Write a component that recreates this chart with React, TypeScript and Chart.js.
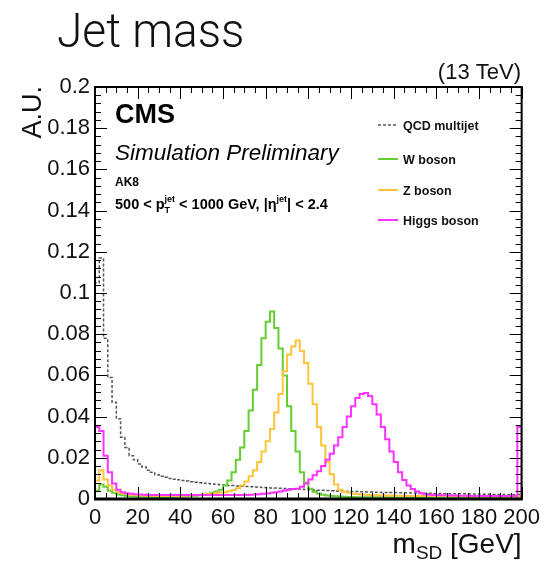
import React, { useEffect, useRef } from "react";
import { Chart, registerables } from "chart.js";

Chart.register(...registerables);

// ---------------- data ----------------
// low edges of the 2 GeV bins (0..198)
const BIN_EDGES = [
  0, 2, 4, 6, 8, 10, 12, 14, 16, 18, 20, 22, 24, 26, 28, 30, 32, 34, 36, 38,
  40, 42, 44, 46, 48, 50, 52, 54, 56, 58, 60, 62, 64, 66, 68, 70, 72, 74, 76, 78,
  80, 82, 84, 86, 88, 90, 92, 94, 96, 98, 100, 102, 104, 106, 108, 110, 112, 114, 116, 118,
  120, 122, 124, 126, 128, 130, 132, 134, 136, 138, 140, 142, 144, 146, 148, 150, 152, 154, 156, 158,
  160, 162, 164, 166, 168, 170, 172, 174, 176, 178, 180, 182, 184, 186, 188, 190, 192, 194, 196, 198,
];
const X_MAX = 200;

const QCD = [
  0.105, 0.117, 0.078, 0.059, 0.047, 0.039, 0.030, 0.025, 0.021, 0.019,
  0.017, 0.0155, 0.014, 0.013, 0.0118, 0.011, 0.0105, 0.010, 0.0096, 0.0093,
  0.009, 0.0087, 0.0084, 0.0081, 0.0079, 0.0077, 0.0075, 0.0073, 0.0071, 0.0069,
  0.0068, 0.0066, 0.0065, 0.0063, 0.0062, 0.0061, 0.006, 0.0058, 0.0057, 0.0056,
  0.0055, 0.0054, 0.0053, 0.0052, 0.0051, 0.005, 0.0049, 0.0048, 0.0047, 0.0046,
  0.0045, 0.0044, 0.0043, 0.0042, 0.0041, 0.004, 0.0039, 0.0038, 0.0038, 0.0037,
  0.0036, 0.0036, 0.0035, 0.0034, 0.0034, 0.0033, 0.0033, 0.0032, 0.0032, 0.0031,
  0.0031, 0.003, 0.003, 0.003, 0.0029, 0.0029, 0.0028, 0.0028, 0.0028, 0.0027,
  0.0027, 0.0026, 0.0026, 0.0026, 0.0025, 0.0025, 0.0025, 0.0024, 0.0024, 0.0024,
  0.0023, 0.0023, 0.0023, 0.0022, 0.0022, 0.0022, 0.0021, 0.0021, 0.0021, 0.0022,
];

const W_BOSON = [
  0.004, 0.007, 0.006, 0.004, 0.003, 0.0022, 0.0018, 0.0015, 0.0013, 0.0012,
  0.0011, 0.0011, 0.001, 0.001, 0.001, 0.001, 0.001, 0.001, 0.0011, 0.0011,
  0.0012, 0.0013, 0.0014, 0.0016, 0.0018, 0.0021, 0.0025, 0.003, 0.0036, 0.0045,
  0.0065, 0.009, 0.013, 0.019, 0.025, 0.033, 0.043, 0.053, 0.065, 0.078,
  0.086, 0.091, 0.083, 0.073, 0.06, 0.045, 0.033, 0.023, 0.013, 0.008,
  0.005, 0.0035, 0.0027, 0.0021, 0.0017, 0.0015, 0.0013, 0.0012, 0.0011, 0.001,
  0.001, 0.0009, 0.0009, 0.0009, 0.0009, 0.0008, 0.0008, 0.0008, 0.0008, 0.0008,
  0.0007, 0.0007, 0.0007, 0.0007, 0.0007, 0.0007, 0.0006, 0.0006, 0.0006, 0.0006,
  0.0006, 0.0006, 0.0006, 0.0006, 0.0005, 0.0005, 0.0005, 0.0005, 0.0005, 0.0005,
  0.0005, 0.0005, 0.0005, 0.0005, 0.0005, 0.0005, 0.0005, 0.0005, 0.0005, 0.0006,
];

const Z_BOSON = [
  0.009, 0.014, 0.0095, 0.0065, 0.0045, 0.0035, 0.0028, 0.0024, 0.0021, 0.0019,
  0.0018, 0.0017, 0.0016, 0.0016, 0.0015, 0.0015, 0.0015, 0.0015, 0.0015, 0.0016,
  0.0016, 0.0017, 0.0018, 0.0019, 0.002, 0.0022, 0.0024, 0.0026, 0.0029, 0.0031,
  0.0033, 0.0038, 0.0044, 0.0052, 0.0065, 0.0085, 0.011, 0.014, 0.018, 0.023,
  0.028, 0.034, 0.042, 0.051, 0.062, 0.07, 0.074, 0.077, 0.072, 0.066,
  0.056, 0.046, 0.035, 0.026, 0.018, 0.012, 0.007, 0.0045, 0.0035, 0.003,
  0.0026, 0.0024, 0.0022, 0.0021, 0.002, 0.0019, 0.0018, 0.0018, 0.0017, 0.0017,
  0.0016, 0.0016, 0.0016, 0.0015, 0.0015, 0.0015, 0.0015, 0.0014, 0.0014, 0.0014,
  0.0014, 0.0014, 0.0013, 0.0013, 0.0013, 0.0013, 0.0013, 0.0013, 0.0012, 0.0012,
  0.0012, 0.0012, 0.0012, 0.0012, 0.0012, 0.0012, 0.0012, 0.0012, 0.0012, 0.0015,
];

const HIGGS = [
  0.035, 0.033, 0.021, 0.013, 0.0075, 0.0045, 0.0033, 0.0028, 0.0025, 0.0023,
  0.0022, 0.0021, 0.002, 0.002, 0.002, 0.0019, 0.0019, 0.0019, 0.0019, 0.0019,
  0.0019, 0.0019, 0.0019, 0.0019, 0.0019, 0.0019, 0.0019, 0.0019, 0.0019, 0.0019,
  0.0019, 0.0019, 0.0019, 0.002, 0.002, 0.002, 0.0021, 0.0022, 0.0023, 0.0025,
  0.0027, 0.003, 0.0033, 0.0037, 0.0041, 0.0045, 0.0048, 0.005, 0.006, 0.0075,
  0.0095, 0.0115, 0.0135, 0.016, 0.019, 0.022, 0.026, 0.03, 0.035, 0.04,
  0.045, 0.049, 0.051, 0.0515, 0.05, 0.046, 0.041, 0.035, 0.029, 0.023,
  0.018, 0.013, 0.0092, 0.0065, 0.0048, 0.0036, 0.0028, 0.0023, 0.0021, 0.002,
  0.0019, 0.0018, 0.0018, 0.0017, 0.0017, 0.0016, 0.0016, 0.0016, 0.0015, 0.0015,
  0.0015, 0.0015, 0.0015, 0.0014, 0.0014, 0.0014, 0.0014, 0.0014, 0.0014, 0.035,
];

const X_TICKS = [0, 20, 40, 60, 80, 100, 120, 140, 160, 180, 200];
const X_TICK_LABELS = ["0", "20", "40", "60", "80", "100", "120", "140", "160", "180", "200"];
const Y_TICKS = [0, 0.02, 0.04, 0.06, 0.08, 0.1, 0.12, 0.14, 0.16, 0.18, 0.2];
const Y_TICK_LABELS = ["0", "0.02", "0.04", "0.06", "0.08", "0.1", "0.12", "0.14", "0.16", "0.18", "0.2"];
const X_MINOR_STEP = 5;
const Y_MINOR_STEP = 0.004;

const LEGEND_LABELS = ["QCD multijet", "W boson", "Z boson", "Higgs boson"];
const COLORS = ["#555555", "#66cc33", "#ffc43d", "#ff33ff"];

const FONT = '"Liberation Sans", Arial, Helvetica, sans-serif';

function histPoints(values: number[]) {
  const pts: { x: number; y: number }[] = [{ x: BIN_EDGES[0], y: 0 }];
  values.forEach((v, i) => pts.push({ x: BIN_EDGES[i], y: v }));
  pts.push({ x: X_MAX, y: values[values.length - 1] });
  pts.push({ x: X_MAX, y: 0 });
  return pts;
}

type Run = { t: string; f: string; dy?: number; adv?: boolean };
function drawRuns(ctx: CanvasRenderingContext2D, x: number, y: number, runs: Run[]) {
  for (const r of runs) {
    ctx.font = r.f;
    ctx.fillText(r.t, x, y + (r.dy || 0));
    if (r.adv !== false) x += ctx.measureText(r.t).width;
  }
  return x;
}

const overlayPlugin = {
  id: "overlay",
  afterDraw(chart: any) {
    const { ctx, chartArea: ca, scales } = chart;
    const xs = scales.x;
    const ys = scales.y;
    ctx.save();

    // frame
    ctx.strokeStyle = "#000";
    ctx.lineWidth = 2;
    ctx.strokeRect(ca.left, ca.top, ca.right - ca.left, ca.bottom - ca.top);
    ctx.lineWidth = 3;
    ctx.beginPath();
    ctx.moveTo(ca.left - 1, ca.bottom);
    ctx.lineTo(ca.right + 1, ca.bottom);
    ctx.stroke();

    // ticks (inside, on all sides)
    ctx.lineWidth = 1;
    ctx.beginPath();
    const nX = Math.round(X_MAX / X_MINOR_STEP);
    for (let k = 0; k <= nX; k++) {
      const v = k * X_MINOR_STEP;
      const len = v % 20 === 0 ? 12 : 6;
      const px = Math.round(xs.getPixelForValue(v)) + 0.5;
      ctx.moveTo(px, ca.bottom);
      ctx.lineTo(px, ca.bottom - len);
      ctx.moveTo(px, ca.top);
      ctx.lineTo(px, ca.top + len);
    }
    const nY = Math.round(0.2 / Y_MINOR_STEP);
    for (let k = 0; k <= nY; k++) {
      const v = k * Y_MINOR_STEP;
      const len = k % 5 === 0 ? 12 : 6;
      const py = Math.round(ys.getPixelForValue(v)) + 0.5;
      ctx.moveTo(ca.left, py);
      ctx.lineTo(ca.left + len, py);
      ctx.moveTo(ca.right, py);
      ctx.lineTo(ca.right - len, py);
    }
    ctx.stroke();

    ctx.fillStyle = "#111";
    ctx.textBaseline = "alphabetic";
    ctx.textAlign = "left";

    // title (slightly condensed)
    ctx.save();
    ctx.translate(57, 47);
    ctx.scale(0.94, 1);
    ctx.font = '300 49px Roboto, "Open Sans", sans-serif';
    ctx.fillText("Jet mass", 0, 0);
    ctx.restore();

    // energy
    ctx.font = `22px ${FONT}`;
    ctx.textAlign = "right";
    ctx.fillText("(13 TeV)", 521, 79);
    ctx.textAlign = "left";

    // y title
    ctx.save();
    ctx.translate(41, ca.top - 1);
    ctx.rotate(-Math.PI / 2);
    ctx.textAlign = "right";
    ctx.font = `27px ${FONT}`;
    ctx.fillText("A.U.", 0, 0);
    ctx.restore();

    // x title
    const xr: Run[] = [
      { t: "m", f: `28px ${FONT}` },
      { t: "SD", f: `19px ${FONT}`, dy: 6 },
      { t: " [GeV]", f: `28px ${FONT}` },
    ];
    let w = 0;
    for (const r of xr) { ctx.font = r.f; w += ctx.measureText(r.t).width; }
    drawRuns(ctx, ca.right - w, 553, xr);

    // CMS labels
    ctx.fillStyle = "#000";
    ctx.font = `bold 27px ${FONT}`;
    ctx.fillText("CMS", 115, 123);
    ctx.font = `italic 22.5px ${FONT}`;
    ctx.fillText("Simulation Preliminary", 115, 160);
    ctx.font = `bold 12px ${FONT}`;
    ctx.fillText("AK8", 115, 186);
    const B = `bold 14.5px ${FONT}`;
    const S = `bold 9px ${FONT}`;
    drawRuns(ctx, 115, 209, [
      { t: "500 < p", f: B },
      { t: "T", f: S, dy: 4, adv: false },
      { t: "jet", f: S, dy: -7 },
      { t: " < 1000 GeV, |\u03b7", f: B },
      { t: "jet", f: S, dy: -7 },
      { t: "| < 2.4", f: B },
    ]);

    // legend
    const legendY = [125, 159, 190, 220];
    LEGEND_LABELS.forEach((lab, i) => {
      const cy = legendY[i];
      ctx.strokeStyle = COLORS[i];
      ctx.lineWidth = i === 0 ? 1.5 : 2;
      ctx.setLineDash(i === 0 ? [3, 2] : []);
      ctx.beginPath();
      ctx.moveTo(378, cy);
      ctx.lineTo(398, cy);
      ctx.stroke();
      ctx.setLineDash([]);
      ctx.fillStyle = "#111";
      ctx.font = `bold 12.5px ${FONT}`;
      ctx.fillText(lab, 403, cy + 4.5);
    });

    ctx.restore();
  },
};

export default function App() {
  const ref = useRef<HTMLCanvasElement | null>(null);
  useEffect(() => {
    if (!ref.current) return;
    const series = [QCD, W_BOSON, Z_BOSON, HIGGS];
    const chart = new Chart(ref.current, {
      type: "line",
      data: {
        datasets: series.map((vals, i) => ({
          label: LEGEND_LABELS[i],
          data: histPoints(vals),
          borderColor: COLORS[i],
          borderWidth: i === 0 ? 1.5 : 2,
          borderDash: i === 0 ? [3, 2] : [],
          stepped: true,
          pointRadius: 0,
          fill: false,
          order: [3, 2, 1, 0][i],
        })),
      },
      options: {
        responsive: false,
        animation: false,
        devicePixelRatio: 1,
        layout: { padding: { left: 0, right: 22, top: 87, bottom: 0 } },
        plugins: { legend: { display: false }, tooltip: { enabled: false } },
        scales: {
          x: {
            type: "linear",
            min: 0,
            max: X_MAX,
            grid: { display: false, drawTicks: false },
            border: { display: false },
            afterBuildTicks: (s: any) => { s.ticks = X_TICKS.map((v) => ({ value: v })); },
            ticks: {
              autoSkip: false,
              maxRotation: 0,
              padding: 6,
              color: "#111",
              font: { family: FONT, size: 22 },
              callback: (_v: any, idx: number) => X_TICK_LABELS[idx],
            },
            afterFit: (s: any) => { s.height = 63; },
          },
          y: {
            type: "linear",
            min: 0,
            max: 0.2,
            grid: { display: false, drawTicks: false },
            border: { display: false },
            afterBuildTicks: (s: any) => { s.ticks = Y_TICKS.map((v) => ({ value: v })); },
            ticks: {
              autoSkip: false,
              padding: 5,
              color: "#111",
              font: { family: FONT, size: 22 },
              callback: (_v: any, idx: number) => Y_TICK_LABELS[idx],
            },
            afterFit: (s: any) => { s.width = 95; },
          },
        },
      },
      plugins: [overlayPlugin],
    });
    return () => chart.destroy();
  }, []);
  return (
    <div style={{ position: "absolute", left: 0, top: 0, width: 546, height: 562, background: "#fff" }}>
      <canvas ref={ref} width={546} height={562} style={{ display: "block" }} />
    </div>
  );
}
